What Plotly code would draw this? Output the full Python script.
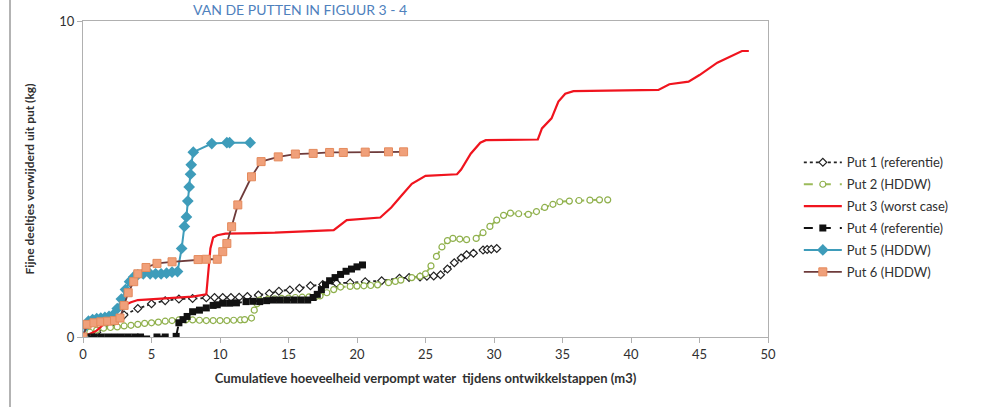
import plotly.graph_objects as go

# ---------------- data ----------------
put1_x = [0, 0.5, 1, 2, 3, 4, 5, 6, 7, 8, 9, 9.6, 10.2, 10.8, 11.4, 12, 12.8, 13.6, 14.3, 15.1,
          15.8, 16.6, 17.5, 18.5, 19.5, 20.6, 21.8, 23.1, 23.8, 24.6, 25.1, 25.6, 26.1, 26.6, 27.1,
          27.6, 28.0, 28.5, 29.2, 29.5, 29.8, 30.2]
put1_y = [0, 0.05, 0.15, 0.4, 0.7, 0.9, 1.05, 1.15, 1.2, 1.22, 1.24, 1.25, 1.25, 1.25, 1.26, 1.28,
          1.33, 1.38, 1.45, 1.49, 1.54, 1.62, 1.66, 1.7, 1.72, 1.75, 1.78, 1.86, 1.88, 1.9, 1.92,
          1.93, 1.97, 2.15, 2.35, 2.5, 2.6, 2.65, 2.75, 2.77, 2.78, 2.8]

put2_x = [0, 0.5, 1, 1.5, 2, 2.5, 3, 3.5, 4, 4.5, 5, 5.5, 6, 6.5, 7, 7.5, 8, 8.5, 9, 9.5, 10, 10.5,
          11, 11.5, 11.8, 12.3, 12.5, 12.7, 12.9, 13.5, 14.0, 14.5, 15.0, 15.5, 16.0, 16.5, 17.0,
          17.3, 17.8, 18.3, 18.8, 19.5, 20.0, 20.5, 21.0, 21.5, 22.3, 22.8, 23.2, 24.0, 24.6, 25.0,
          25.4, 25.8, 26.2, 26.6, 27.0, 27.5, 28.0, 28.7, 29.2, 29.7, 30.2, 30.7, 31.2, 31.8, 32.5,
          33.1, 33.7, 34.3, 34.8, 35.5, 36.2, 37.0, 37.7, 38.3]
put2_y = [0, 0.15, 0.22, 0.28, 0.3, 0.32, 0.35, 0.37, 0.4, 0.43, 0.45, 0.47, 0.5, 0.52, 0.54, 0.54,
          0.54, 0.53, 0.52, 0.52, 0.52, 0.52, 0.53, 0.54, 0.55, 0.6, 0.85, 1.05, 1.17, 1.2, 1.21,
          1.22, 1.23, 1.25, 1.26, 1.27, 1.28, 1.3, 1.4, 1.5, 1.58, 1.6, 1.61, 1.62, 1.63, 1.65, 1.72,
          1.76, 1.8, 1.88, 1.92, 2.0, 2.25, 2.55, 2.85, 3.05, 3.12, 3.1, 3.08, 3.12, 3.3, 3.5, 3.7,
          3.85, 3.92, 3.9, 3.88, 3.97, 4.1, 4.2, 4.28, 4.3, 4.32, 4.33, 4.34, 4.34]

put3_x = [0, 1, 2, 3, 3.5, 4, 6, 8, 9.0, 9.15, 9.3, 9.5, 9.8, 10.4, 14.0, 18.3, 18.8, 19.25, 21.7,
          22.5, 23.3, 24.0, 25.0, 27.3, 27.6, 28.3, 29.0, 29.4, 33.2, 33.5, 34.2, 34.7, 35.2, 35.8,
          42.0, 42.8, 44.2, 45.0, 46.3, 47.5, 48.1, 48.6]
put3_y = [0, 0.2, 0.6, 1.0, 1.1, 1.17, 1.22, 1.28, 1.35, 2.0, 2.8, 3.15, 3.22, 3.27, 3.3, 3.38,
          3.55, 3.7, 3.78, 4.1, 4.5, 4.85, 5.1, 5.15, 5.3, 5.8, 6.15, 6.23, 6.25, 6.6, 6.92, 7.45,
          7.7, 7.78, 7.82, 8.0, 8.08, 8.29, 8.68, 8.92, 9.05, 9.05]

put4_x = [0.3, 0.8, 1.3, 1.8, 2.3, 2.8, 3.3, 3.8, 4.2, 5.4, 6.0, 6.8, 7.0, 7.3, 7.6, 8.0, 8.5, 9.0,
          9.5, 9.8, 10.2, 10.7, 11.2, 11.9, 12.4, 12.9, 13.4, 13.9, 14.4, 14.9, 15.4, 15.9, 16.4,
          16.8, 17.1, 17.4, 17.7, 18.0, 18.4, 18.8, 19.2, 19.6, 20.0, 20.4]
put4_y = [0, 0, 0, 0, 0, 0, 0, 0, 0, 0, 0, 0.02, 0.45, 0.55, 0.65, 0.8, 0.85, 0.92, 1.0, 1.02,
          1.07, 1.07, 1.08, 1.12, 1.13, 1.12, 1.15, 1.17, 1.17, 1.17, 1.17, 1.17, 1.17, 1.25, 1.35,
          1.5, 1.65, 1.78, 1.88, 1.98, 2.08, 2.15, 2.22, 2.28]

put5_x = [0, 0.2, 0.4, 0.7, 1.0, 1.3, 1.6, 1.9, 2.2, 2.5, 2.8, 3.1, 3.4, 3.7, 4.0, 4.4, 4.9, 5.3,
          5.7, 6.1, 6.5, 6.9, 7.2, 7.4, 7.55, 7.65, 7.75, 7.85, 7.9, 8.05, 9.4, 10.5, 10.7, 12.2]
put5_y = [0, 0.35, 0.5, 0.55, 0.58, 0.6, 0.62, 0.65, 0.7, 0.9, 1.2, 1.5, 1.75, 1.9, 1.97, 2.0, 2.0,
          2.0, 2.0, 2.02, 2.05, 2.07, 2.8, 3.5, 3.8, 4.3, 4.75, 5.15, 5.45, 5.85, 6.12, 6.15, 6.15,
          6.15]

put6_x = [0, 0.3, 0.8, 1.3, 1.8, 2.3, 2.7, 3.0, 3.3, 3.7, 4.0, 4.6, 5.4, 6.5, 8.4, 9.0, 9.8, 10.2,
          10.5, 10.85, 11.3, 12.3, 13.0, 14.25, 15.5, 16.8, 18.0, 19.0, 20.6, 22.3, 23.4]
put6_y = [0, 0.4, 0.45, 0.48, 0.5, 0.52, 0.6, 1.0, 1.4, 1.75, 2.0, 2.2, 2.33, 2.38, 2.45, 2.46,
          2.46, 2.7, 2.96, 3.49, 4.18, 5.07, 5.55, 5.7, 5.79, 5.81, 5.84, 5.84, 5.85, 5.86, 5.86]

names = ["Put 1 (referentie)", "Put 2 (HDDW)", "Put 3 (worst case)",
         "Put 4 (referentie)", "Put 5 (HDDW)", "Put 6 (HDDW)"]

x_ticks = [0, 5, 10, 15, 20, 25, 30, 35, 40, 45, 50]
y_ticks = [0, 10]

# ---------------- figure ----------------
FONT = "Lato, 'Open Sans', sans-serif"
fig = go.Figure()

fig.add_trace(go.Scatter(
    x=put1_x, y=put1_y, name=names[0], mode="lines+markers",
    line=dict(color="#222222", width=1.8, dash="dot"),
    marker=dict(symbol="diamond", size=6, color="white", line=dict(color="#222222", width=1.2))))
fig.add_trace(go.Scatter(
    x=put2_x, y=put2_y, name=names[1], mode="lines+markers",
    line=dict(color="#9BBB59", width=2, dash="dash"),
    marker=dict(symbol="circle", size=6, color="white", line=dict(color="#8FB04C", width=1.2))))
fig.add_trace(go.Scatter(
    x=put3_x, y=put3_y, name=names[2], mode="lines",
    line=dict(color="#F0141E", width=2.2)))
fig.add_trace(go.Scatter(
    x=put4_x, y=put4_y, name=names[3], mode="lines+markers",
    line=dict(color="#111111", width=2, dash="dash"),
    marker=dict(symbol="square", size=7, color="#111111")))
fig.add_trace(go.Scatter(
    x=put5_x, y=put5_y, name=names[4], mode="lines+markers",
    line=dict(color="#3E9CBA", width=2),
    marker=dict(symbol="diamond", size=9, color="#3E9CBA")))
fig.add_trace(go.Scatter(
    x=put6_x, y=put6_y, name=names[5], mode="lines+markers",
    line=dict(color="#6E3B3B", width=1.8),
    marker=dict(symbol="square", size=8, color="#F0A07A", line=dict(color="#E48A5C", width=1))))

axis_col = "#B0B0B0"
fig.update_layout(
    width=1000, height=407, autosize=False,
    margin=dict(l=83, r=232, t=21, b=70),
    paper_bgcolor="white", plot_bgcolor="white",
    font=dict(family=FONT, size=12, color="#303030"),
    showlegend=True,
    legend=dict(x=1.045, y=0.60, xanchor="left", yanchor="top",
                font=dict(family=FONT, size=13, color="#303030"),
                bgcolor="rgba(0,0,0,0)", itemwidth=38, tracegroupgap=2),
    xaxis=dict(range=[0, 50], tickvals=x_ticks, ticktext=[str(v) for v in x_ticks],
               showgrid=False, zeroline=False, showline=True, linecolor=axis_col, linewidth=1,
               mirror=True, ticks="outside", ticklen=5, tickcolor=axis_col,
               tickfont=dict(size=13, color="#303030"),
               title=dict(text="<b>Cumulatieve hoeveelheid verpompt water  tijdens ontwikkelstappen (m3)</b>",
                          font=dict(size=13, color="#303030"), standoff=13)),
    yaxis=dict(range=[0, 10], tickvals=y_ticks, ticktext=[str(v) for v in y_ticks],
               showgrid=False, zeroline=False, showline=True, linecolor=axis_col, linewidth=1,
               mirror=True, ticks="outside", ticklen=5, tickcolor=axis_col,
               tickfont=dict(size=13, color="#303030"),
               title=dict(text="<b>Fijne deeltjes verwijderd uit put (kg)</b>",
                          font=dict(size=12, color="#303030"), standoff=22)),
)

for i, tr in enumerate(fig.data):
    tr.legendgroup = f"g{i}"

# outer frame line at left and the heading at the top
fig.add_shape(type="line", xref="paper", yref="paper",
              x0=(10 - 83) / 685, x1=(10 - 83) / 685, y0=-0.25, y1=1.1,
              line=dict(color="#9A9A9A", width=1.5))
fig.add_annotation(text="VAN DE PUTTEN IN FIGUUR 3 - 4", xref="paper", yref="paper",
                   x=(300 - 83) / 685, y=(337 - 0) / 316, xanchor="center", yanchor="top",
                   showarrow=False, borderpad=0,
                   font=dict(family=FONT, size=14, color="#4F81BD"))

fig.write_html("out.html")
